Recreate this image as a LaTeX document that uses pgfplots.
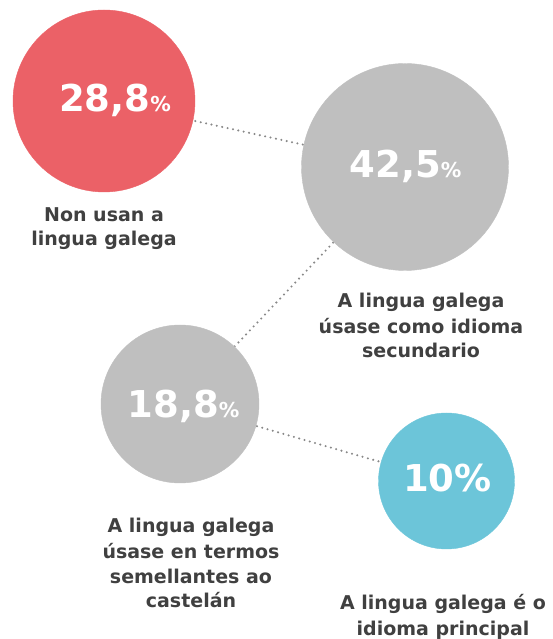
\documentclass[border=0pt]{standalone}
\usepackage{pgfplots}
\pgfplotsset{compat=1.18}
\usepackage{fontspec}
\setmainfont{DejaVu Sans}
\definecolor{cred}{HTML}{EB6167}
\definecolor{cgray}{HTML}{BFBFBF}
\definecolor{cblue}{HTML}{6CC5D9}
\definecolor{ctext}{HTML}{404040}
\definecolor{cline}{HTML}{888888}
\newcommand{\lab}[3]{\node[anchor=base,text=ctext,font=\fontsize{19}{25}\selectfont\bfseries,inner sep=0pt] at (axis cs:#1,#2) {#3};}
\newcommand{\pct}[4]{\node[anchor=base,text=white,font=\fontsize{37}{42}\selectfont\bfseries,inner sep=0pt] at (axis cs:#1,#2) {#3{\fontsize{20.5}{22}\selectfont #4}};}
\begin{document}
\begin{tikzpicture}
\begin{axis}[
  width=553pt, height=639pt, scale only axis,
  xmin=0, xmax=553, ymin=0, ymax=639, y dir=reverse,
  hide axis, clip=false, set layers,
]
\addplot[cline, line width=2.3pt, dash pattern=on 0pt off 5.5pt, line cap=round]
  coordinates {(104,101) (405,167) (180,404) (446.5,481)};
\addplot[only marks, mark=*, mark size=91pt, color=cred, mark options={draw=none, fill=cred}] coordinates {(104,101)};
\addplot[only marks, mark=*, mark size=103.5pt, color=cgray, mark options={draw=none, fill=cgray}] coordinates {(405,167)};
\addplot[only marks, mark=*, mark size=79pt, color=cgray, mark options={draw=none, fill=cgray}] coordinates {(180,404)};
\addplot[only marks, mark=*, mark size=68pt, color=cblue, mark options={draw=none, fill=cblue}] coordinates {(446.5,481)};
\begin{pgfonlayer}{axis foreground}
\pct{115}{111.5}{28,8}{\%}
\pct{405.5}{178}{42,5}{\%}
\pct{183.5}{418}{18,8}{\%}
\node[anchor=base,text=white,font=\fontsize{37}{42}\selectfont\bfseries,inner sep=0pt] at (axis cs:447.5,492) {10\%};
\end{pgfonlayer}
\lab{104}{221.5}{Non usan a}
\lab{104}{246}{lingua galega}
\lab{421}{308}{A lingua galega}
\lab{421}{333.5}{úsase como idioma}
\lab{421}{358}{secundario}
\lab{191}{533}{A lingua galega}
\lab{191}{558.5}{úsase en termos}
\lab{191}{583.5}{semellantes ao}
\lab{191}{608}{castelán}
\lab{443}{610}{A lingua galega é o}
\lab{443}{635}{idioma principal}
\end{axis}
\pgfresetboundingbox
\useasboundingbox (current axis.south west) rectangle (current axis.north east);
\end{tikzpicture}
\end{document}
